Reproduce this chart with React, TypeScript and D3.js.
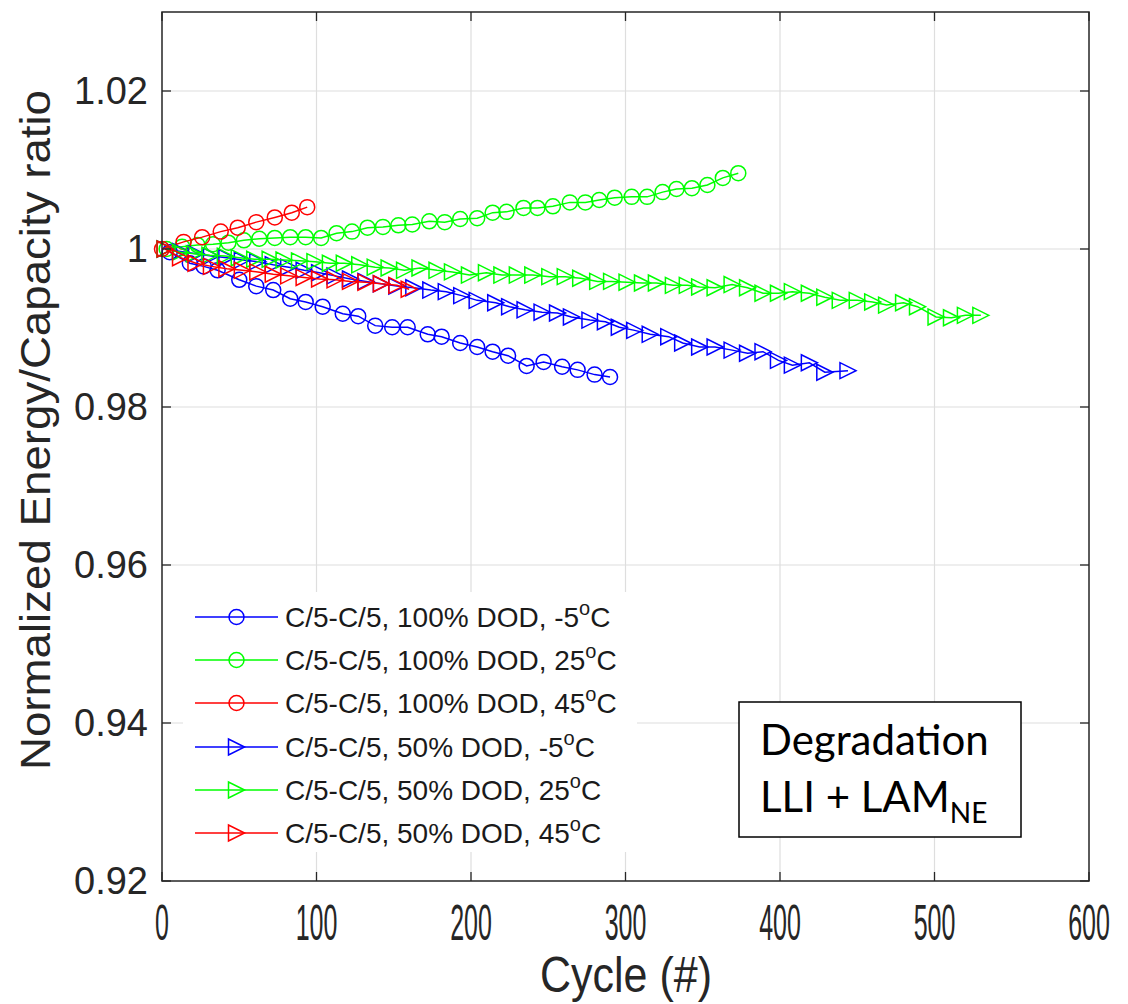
import React from 'react';
import * as d3 from 'd3';

const W = 1128;
const H = 1004;

const xTicks = [0, 100, 200, 300, 400, 500, 600];
const yTicks = [0.92, 0.94, 0.96, 0.98, 1, 1.02];
const yTickLabels = ['0.92', '0.94', '0.96', '0.98', '1', '1.02'];

// 100% DOD, -5 C (blue circles)
const blueCircCycles = [5, 18, 27, 36, 50, 61, 72, 83, 93, 104, 117, 127, 138, 149, 159, 172, 181, 193, 204, 214, 224, 236, 247, 259, 269, 280, 290];
const blueCircValues = [0.9996, 0.9982, 0.9978, 0.9973, 0.9961, 0.9953, 0.9948, 0.9937, 0.9933, 0.9927, 0.9918, 0.9915, 0.9903, 0.9901, 0.9901, 0.9892, 0.9889, 0.9881, 0.9876, 0.987, 0.9865, 0.9852, 0.9857, 0.9851, 0.9847, 0.9841, 0.9838];

// 100% DOD, 25 C (green circles)
const greenCircCycles = [3, 13, 23, 33, 43, 53, 63, 73, 83, 93, 103, 113, 123, 133, 143, 153, 162, 173, 183, 193, 204, 214, 223, 234, 243, 253, 264, 274, 283, 293, 304, 314, 324, 333, 343, 353, 363, 373];
const greenCircValues = [1.0, 1.0003, 1.0005, 1.0006, 1.0008, 1.0011, 1.0013, 1.0014, 1.0015, 1.0015, 1.0014, 1.002, 1.0022, 1.0027, 1.0028, 1.003, 1.0031, 1.0035, 1.0034, 1.0038, 1.0039, 1.0046, 1.0047, 1.0052, 1.0052, 1.0054, 1.0059, 1.0059, 1.0062, 1.0065, 1.0066, 1.0066, 1.0072, 1.0076, 1.0077, 1.0081, 1.009, 1.0096];

// 100% DOD, 45 C (red circles)
const redCircCycles = [0, 14, 26, 38, 49, 61, 73, 84, 94];
const redCircValues = [1.0, 1.0009, 1.0015, 1.0022, 1.0027, 1.0034, 1.004, 1.0046, 1.0053];

// 50% DOD, -5 C (blue triangles)
const blueTriCycles = [2, 12, 22, 32, 42, 52, 62, 72, 82, 92, 102, 112, 122, 132, 142, 152, 163, 174, 184, 194, 204, 216, 225, 235, 246, 256, 265, 277, 287, 296, 306, 316, 328, 337, 348, 358, 369, 379, 389, 399, 408, 419, 429, 444];
const blueTriValues = [1.0, 0.9997, 0.9994, 0.9991, 0.9989, 0.9986, 0.9984, 0.998, 0.9977, 0.9973, 0.997, 0.9966, 0.9962, 0.9959, 0.9956, 0.9953, 0.9951, 0.9948, 0.9946, 0.9941, 0.9935, 0.9932, 0.9927, 0.9923, 0.992, 0.9919, 0.9914, 0.991, 0.9908, 0.9901, 0.9897, 0.9892, 0.9889, 0.9881, 0.9876, 0.9876, 0.9872, 0.9868, 0.987, 0.9859, 0.9853, 0.9856, 0.9844, 0.9846];

// 50% DOD, 25 C (green triangles)
const greenTriCycles = [2, 12, 21, 31, 41, 50, 60, 70, 79, 89, 99, 109, 118, 128, 138, 147, 157, 167, 178, 188, 199, 210, 220, 230, 240, 251, 261, 271, 282, 291, 301, 311, 320, 331, 340, 348, 358, 369, 379, 389, 399, 408, 419, 429, 439, 450, 460, 469, 480, 489, 501, 511, 520, 530];
const greenTriValues = [1.0, 0.9996, 0.9994, 0.9992, 0.9991, 0.9989, 0.9987, 0.9987, 0.9986, 0.9985, 0.9984, 0.9982, 0.9982, 0.998, 0.9977, 0.9976, 0.9973, 0.9976, 0.9973, 0.9971, 0.9967, 0.997, 0.9967, 0.9967, 0.9967, 0.9965, 0.9965, 0.9963, 0.9959, 0.9959, 0.9958, 0.9957, 0.9957, 0.9954, 0.9954, 0.9952, 0.9951, 0.9955, 0.9951, 0.9944, 0.9944, 0.9946, 0.9944, 0.9939, 0.9935, 0.9935, 0.9933, 0.9929, 0.9932, 0.9927, 0.9914, 0.9913, 0.9916, 0.9916];

// 50% DOD, 45 C (red triangles)
const redTriCycles = [2, 12, 22, 32, 42, 52, 62, 72, 82, 92, 102, 112, 122, 132, 142, 152, 160];
const redTriValues = [1.0, 0.9989, 0.9982, 0.9978, 0.9975, 0.9973, 0.9971, 0.9968, 0.9966, 0.9964, 0.9962, 0.9961, 0.9959, 0.9958, 0.9956, 0.9954, 0.9949];

const legendPrefixes = [
  'C/5-C/5, 100% DOD, -5',
  'C/5-C/5, 100% DOD, 25',
  'C/5-C/5, 100% DOD, 45',
  'C/5-C/5, 50% DOD, -5',
  'C/5-C/5, 50% DOD, 25',
  'C/5-C/5, 50% DOD, 45',
];

const BLUE = '#0000ff';
const GREEN = '#00ff00';
const RED = '#ff0000';

const series = [
  { c: blueCircCycles, v: blueCircValues, color: BLUE, marker: 'o' },
  { c: greenCircCycles, v: greenCircValues, color: GREEN, marker: 'o' },
  { c: redCircCycles, v: redCircValues, color: RED, marker: 'o' },
  { c: blueTriCycles, v: blueTriValues, color: BLUE, marker: '>' },
  { c: greenTriCycles, v: greenTriValues, color: GREEN, marker: '>' },
  { c: redTriCycles, v: redTriValues, color: RED, marker: '>' },
];

const PL = 162, PR = 1089, PT = 12, PB = 881;
const AX = '#262626';
const FONT = '"Liberation Sans", Arial, Helvetica, sans-serif';

function Marker({ type, x, y, color }: { type: string; x: number; y: number; color: string }) {
  if (type === 'o') {
    return <circle cx={x} cy={y} r={7.5} fill="none" stroke={color} strokeWidth={1.5} />;
  }
  const s = 8;
  return (
    <path
      d={`M${x + s},${y} L${x - s},${y - s} L${x - s},${y + s} Z`}
      fill="none"
      stroke={color}
      strokeWidth={1.5}
      strokeLinejoin="miter"
    />
  );
}

export default function App() {
  const x = d3.scaleLinear().domain([0, 600]).range([PL, PR]);
  const y = d3.scaleLinear().domain([0.92, 1.03]).range([PB, PT]);
  const line = d3
    .line<[number, number]>()
    .x((d) => x(d[0]))
    .y((d) => y(d[1]));

  const tickLen = 9;
  const legendRows = [617, 660, 703, 747, 790, 833];

  return (
    <svg
      width={W}
      height={H}
      viewBox={`0 0 ${W} ${H}`}
      style={{ position: 'absolute', left: 0, top: 0, background: '#fff' }}
    >
      <rect x={0} y={0} width={W} height={H} fill="#fff" />
      {/* grid */}
      {xTicks.slice(1, -1).map((t) => (
        <line key={'gx' + t} x1={x(t)} x2={x(t)} y1={PT} y2={PB} stroke="#dedede" strokeWidth={1.2} />
      ))}
      {yTicks.slice(1).map((t) => (
        <line key={'gy' + t} x1={PL} x2={PR} y1={y(t)} y2={y(t)} stroke="#dedede" strokeWidth={1.2} />
      ))}

      {/* series */}
      {series.map((s, i) => {
        const pts: [number, number][] = s.c.map((c, j) => [c, s.v[j]]);
        return (
          <g key={'s' + i}>
            <path d={line(pts) || ''} fill="none" stroke={s.color} strokeWidth={1.5} />
            {pts.map((p, j) => (
              <Marker key={j} type={s.marker} x={x(p[0])} y={y(p[1])} color={s.color} />
            ))}
          </g>
        );
      })}

      {/* axes box */}
      <rect x={PL} y={PT} width={PR - PL} height={PB - PT} fill="none" stroke={AX} strokeWidth={1.5} />
      {xTicks.map((t) => (
        <g key={'tx' + t}>
          <line x1={x(t)} x2={x(t)} y1={PB} y2={PB - tickLen} stroke={AX} strokeWidth={1.3} />
          <line x1={x(t)} x2={x(t)} y1={PT} y2={PT + tickLen} stroke={AX} strokeWidth={1.3} />
          <g transform={`translate(${x(t)},940) scale(0.5,1)`}>
            <text textAnchor="middle" fontFamily={FONT} fontSize={50} fill={AX}>
              {t}
            </text>
          </g>
        </g>
      ))}
      {yTicks.map((t, i) => (
        <g key={'ty' + t}>
          <line x1={PL} x2={PL + tickLen} y1={y(t)} y2={y(t)} stroke={AX} strokeWidth={1.3} />
          <line x1={PR} x2={PR - tickLen} y1={y(t)} y2={y(t)} stroke={AX} strokeWidth={1.3} />
          <text x={148} y={y(t) + 13} textAnchor="end" fontFamily={FONT} fontSize={38} fill={AX}>
            {yTickLabels[i]}
          </text>
        </g>
      ))}

      {/* axis labels */}
      <g transform={`translate(626,992) scale(0.86,1)`}>
        <text textAnchor="middle" fontFamily={FONT} fontSize={50} fill={AX}>
          Cycle (#)
        </text>
      </g>
      <text
        transform={`translate(50,430) rotate(-90)`}
        textAnchor="middle"
        fontFamily={FONT}
        fontSize={42}
        fill={AX}
        textLength={680}
        lengthAdjust="spacingAndGlyphs"
      >
        Normalized Energy/Capacity ratio
      </text>

      {/* legend */}
      <rect x={183} y={592} width={454} height={260} fill="#fff" />
      {series.map((s, i) => (
        <g key={'lg' + i}>
          <line x1={195} x2={278} y1={legendRows[i]} y2={legendRows[i]} stroke={s.color} strokeWidth={1.5} />
          <Marker type={s.marker} x={236.5} y={legendRows[i]} color={s.color} />
          <text x={285} y={legendRows[i] + 10} fontFamily={FONT} fontSize={28} fill="#1a1a1a">
            {legendPrefixes[i]}
            <tspan dy={-12} fontSize={20}>o</tspan>
            <tspan dy={12}>C</tspan>
          </text>
        </g>
      ))}

      {/* annotation box */}
      <rect x={739} y={702} width={282} height={135} fill="#fff" stroke="#000" strokeWidth={1.5} />
      <text x={760} y={755} fontFamily="Lato, 'Open Sans', sans-serif" fontSize={42} fill="#000">
        Degradation
      </text>
      <text x={760} y={812} fontFamily="Lato, 'Open Sans', sans-serif" fontSize={42} fill="#000">
        LLI + LAM
        <tspan dy={11} fontSize={28}>NE</tspan>
      </text>
    </svg>
  );
}
